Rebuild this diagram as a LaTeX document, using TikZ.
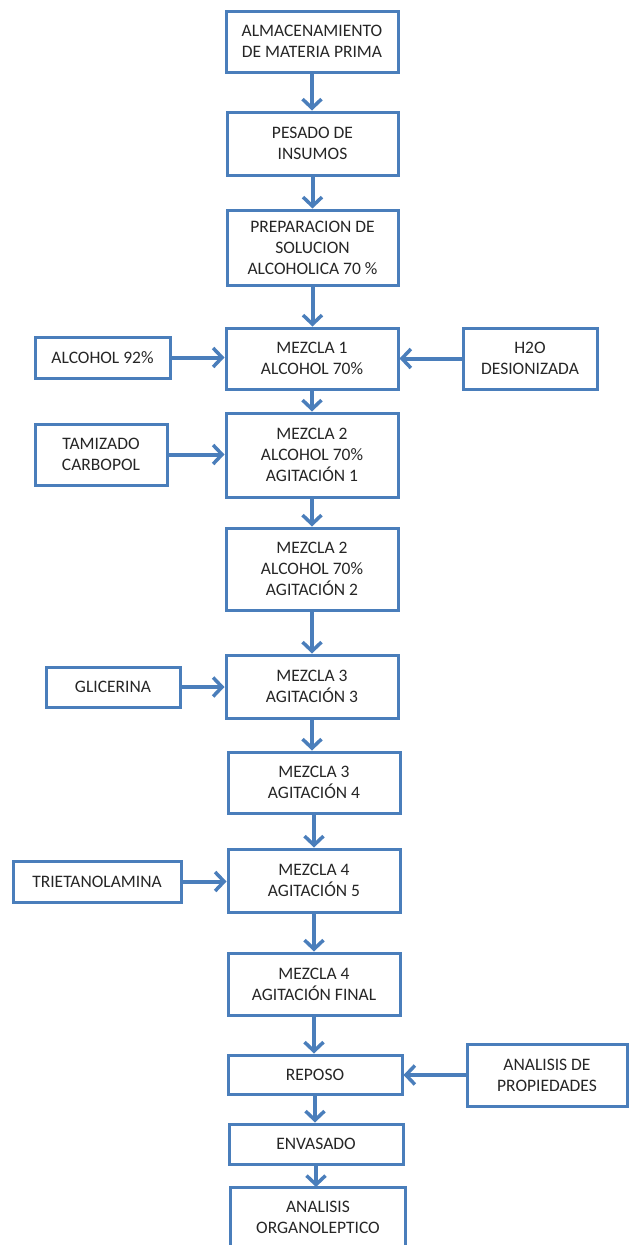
\documentclass[tikz,border=0pt]{standalone}
\usepackage{fontspec}
\setmainfont{Carlito}
\usetikzlibrary{arrows.meta}
\definecolor{boxblue}{RGB}{74,126,187}
\definecolor{txt}{RGB}{38,38,38}
\tikzset{
  pbox/.style={draw=boxblue, line width=3pt, fill=white, rectangle, align=center,
    inner sep=0pt, font=\fontsize{17.5}{21}\selectfont, text=txt},
  flow/.style={draw=boxblue, line width=4pt,
    -{Straight Barb[length=9pt,width=19pt,line width=3.5pt]}},
}
\begin{document}
\begin{tikzpicture}[x=1pt,y=-1pt]
\useasboundingbox (0,0) rectangle (629,1245);
% main column
\node[pbox, minimum width=172, minimum height=61] (n1) at (312,41.5) {ALMACENAMIENTO\\DE MATERIA PRIMA};
\node[pbox, minimum width=171, minimum height=63] (n2) at (312.5,143.5) {PESADO DE\\INSUMOS};
\node[pbox, minimum width=171, minimum height=75] (n3) at (312.5,247.5) {PREPARACION DE\\SOLUCION\\ALCOHOLICA 70 \%};
\node[pbox, minimum width=172, minimum height=61] (n4) at (312,358.5) {MEZCLA 1\\ALCOHOL 70\%};
\node[pbox, minimum width=172, minimum height=84] (n5) at (312,455) {MEZCLA 2\\ALCOHOL 70\%\\AGITACIÓN 1};
\node[pbox, minimum width=172, minimum height=82] (n6) at (312,569) {MEZCLA 2\\ALCOHOL 70\%\\AGITACIÓN 2};
\node[pbox, minimum width=172, minimum height=63] (n7) at (312,686.5) {MEZCLA 3\\AGITACIÓN 3};
\node[pbox, minimum width=172, minimum height=61] (n8) at (314,782.5) {MEZCLA 3\\AGITACIÓN 4};
\node[pbox, minimum width=172, minimum height=63] (n9) at (314,880.5) {MEZCLA 4\\AGITACIÓN 5};
\node[pbox, minimum width=172, minimum height=62] (n10) at (314,984) {MEZCLA 4\\AGITACIÓN FINAL};
\node[pbox, minimum width=174, minimum height=39] (n11) at (315,1074.5) {REPOSO};
\node[pbox, minimum width=174, minimum height=40] (n12) at (316,1144) {ENVASADO};
\node[pbox, draw=none, fill=none, minimum width=172, minimum height=58, anchor=north] (n13) at (318,1187) {ANALISIS\\ORGANOLEPTICO};
\draw[draw=boxblue, line width=3pt] (n13.south west) -- (n13.north west) -- (n13.north east) -- (n13.south east);
% side inputs
\node[pbox, minimum width=135, minimum height=41] (s1) at (102.5,357.5) {ALCOHOL 92\%};
\node[pbox, minimum width=134, minimum height=61] (s2) at (530,358.5) {H2O\\DESIONIZADA};
\node[pbox, minimum width=132, minimum height=61] (s3) at (101,454.5) {TAMIZADO\\CARBOPOL};
\node[pbox, minimum width=134, minimum height=40] (s4) at (113,687) {GLICERINA};
\node[pbox, minimum width=168, minimum height=41] (s5) at (97,881.5) {TRIETANOLAMINA};
\node[pbox, minimum width=160, minimum height=62] (s6) at (547,1075) {ANALISIS DE\\PROPIEDADES};
% vertical flow
\draw[flow] (n1.south) -- (n1.south |- n2.north);
\draw[flow] (n2.south) -- (n2.south |- n3.north);
\draw[flow] (n3.south) -- (n3.south |- n4.north);
\draw[flow] (n4.south) -- (n4.south |- n5.north);
\draw[flow] (n5.south) -- (n5.south |- n6.north);
\draw[flow] (n6.south) -- (n6.south |- n7.north);
\draw[flow] (n7.south) -- (n7.south |- n8.north);
\draw[flow] (n8.south) -- (n8.south |- n9.north);
\draw[flow] (n9.south) -- (n9.south |- n10.north);
\draw[flow] (n10.south) -- (n10.south |- n11.north);
\draw[flow] (n11.south) -- (n11.south |- n12.north);
\draw[flow] (n12.south) -- (n12.south |- n13.north);
% side flows
\draw[flow] (s1) -- (s1 -| n4.west);
\draw[flow] (s2) -- (s2 -| n4.east);
\draw[flow] (s3) -- (s3 -| n5.west);
\draw[flow] (s4) -- (s4 -| n7.west);
\draw[flow] (s5) -- (s5 -| n9.west);
\draw[flow] (s6) -- (s6 -| n11.east);
\end{tikzpicture}
\end{document}
